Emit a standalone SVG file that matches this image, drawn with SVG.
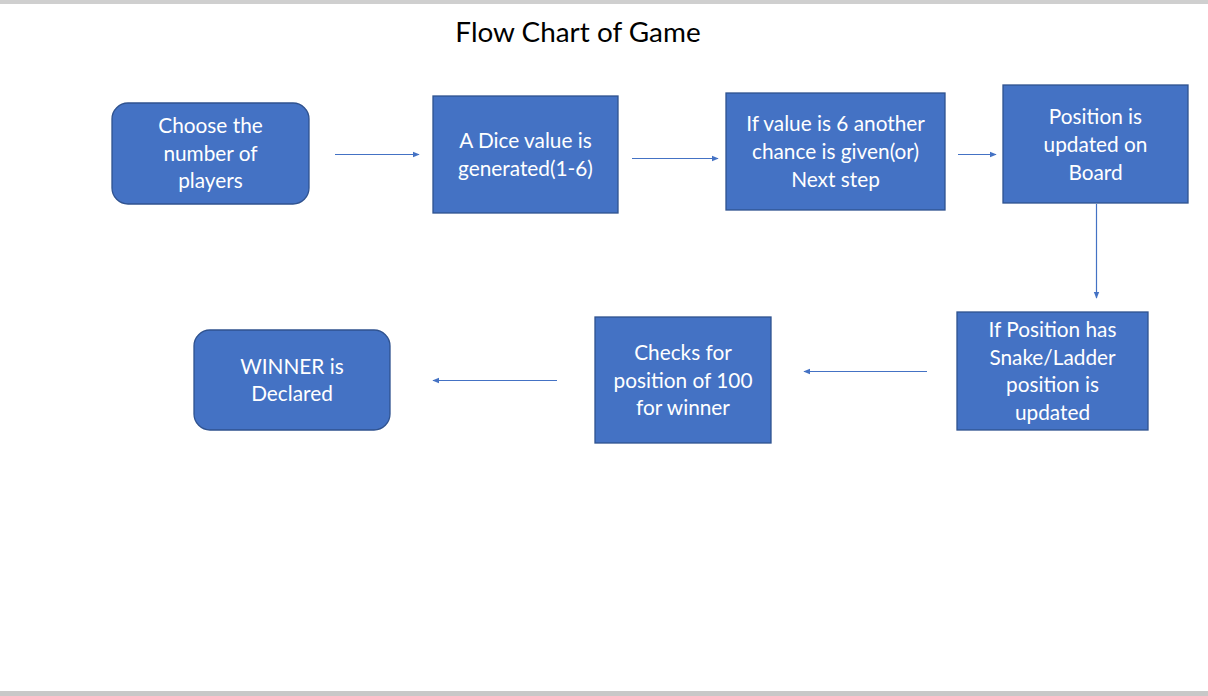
<svg xmlns="http://www.w3.org/2000/svg" width="1208" height="696" viewBox="0 0 1208 696">
<defs>
<style>
.n{fill:#4472C4;stroke:#2F528F;stroke-width:1.3}
.t{fill:#fff;font-family:Lato,"Open Sans",sans-serif;font-size:20.8px;text-anchor:middle}
.c{stroke:#4472C4;stroke-width:1.2;fill:none;marker-end:url(#a)}
</style>
<marker id="a" viewBox="0 0 10 10" refX="9" refY="5" markerWidth="7" markerHeight="7" markerUnits="userSpaceOnUse" orient="auto"><path d="M0,1 L10,5 L0,9 z" fill="#4472C4"/></marker>
</defs>
<rect width="1208" height="696" fill="#fff"/>
<rect x="0" y="0" width="1208" height="4" fill="#cfcfcf"/>
<rect x="0" y="691" width="1208" height="5" fill="#c8c8c8"/>
<text x="578" y="42" font-family="Lato,'Open Sans',sans-serif" font-size="27.9" text-anchor="middle" fill="#000">Flow Chart of Game</text>
<g id="connectors">
<line class="c" x1="335" y1="154.5" x2="419" y2="154.5"/>
<line class="c" x1="632" y1="158.5" x2="718" y2="158.5"/>
<line class="c" x1="958" y1="154.5" x2="996" y2="154.5"/>
<line class="c" x1="1096.5" y1="204" x2="1096.5" y2="298"/>
<line class="c" x1="927" y1="371.5" x2="804" y2="371.5"/>
<line class="c" x1="557" y1="380.5" x2="433" y2="380.5"/>
</g>
<g id="n1"><rect class="n" x="112" y="103" width="197" height="101" rx="16"/>
<text class="t" x="210.5" y="133">Choose the</text><text class="t" x="210.5" y="161">number of</text><text class="t" x="210.5" y="188">players</text></g>
<g id="n2"><rect class="n" x="433" y="96" width="185" height="117"/>
<text class="t" x="525.5" y="148">A Dice value is</text><text class="t" x="525.5" y="176">generated(1-6)</text></g>
<g id="n3"><rect class="n" x="726" y="93" width="219" height="117"/>
<text class="t" x="835.5" y="131">If value is 6 another</text><text class="t" x="835.5" y="159">chance is given(or)</text><text class="t" x="835.5" y="187">Next step</text></g>
<g id="n4"><rect class="n" x="1003" y="85" width="185" height="118"/>
<text class="t" x="1095.5" y="124">Position is</text><text class="t" x="1095.5" y="152">updated on</text><text class="t" x="1095.5" y="180">Board</text></g>
<g id="n5"><rect class="n" x="957" y="312" width="191" height="118"/>
<text class="t" x="1052.5" y="337">If Position has</text><text class="t" x="1052.5" y="365">Snake/Ladder</text><text class="t" x="1052.5" y="392">position is</text><text class="t" x="1052.5" y="420">updated</text></g>
<g id="n6"><rect class="n" x="595" y="317" width="176" height="126"/>
<text class="t" x="683" y="360">Checks for</text><text class="t" x="683" y="388">position of 100</text><text class="t" x="683" y="415">for winner</text></g>
<g id="n7"><rect class="n" x="194" y="330" width="196" height="100" rx="16"/>
<text class="t" x="292" y="374">WINNER is</text><text class="t" x="292" y="401">Declared</text></g>
</svg>
